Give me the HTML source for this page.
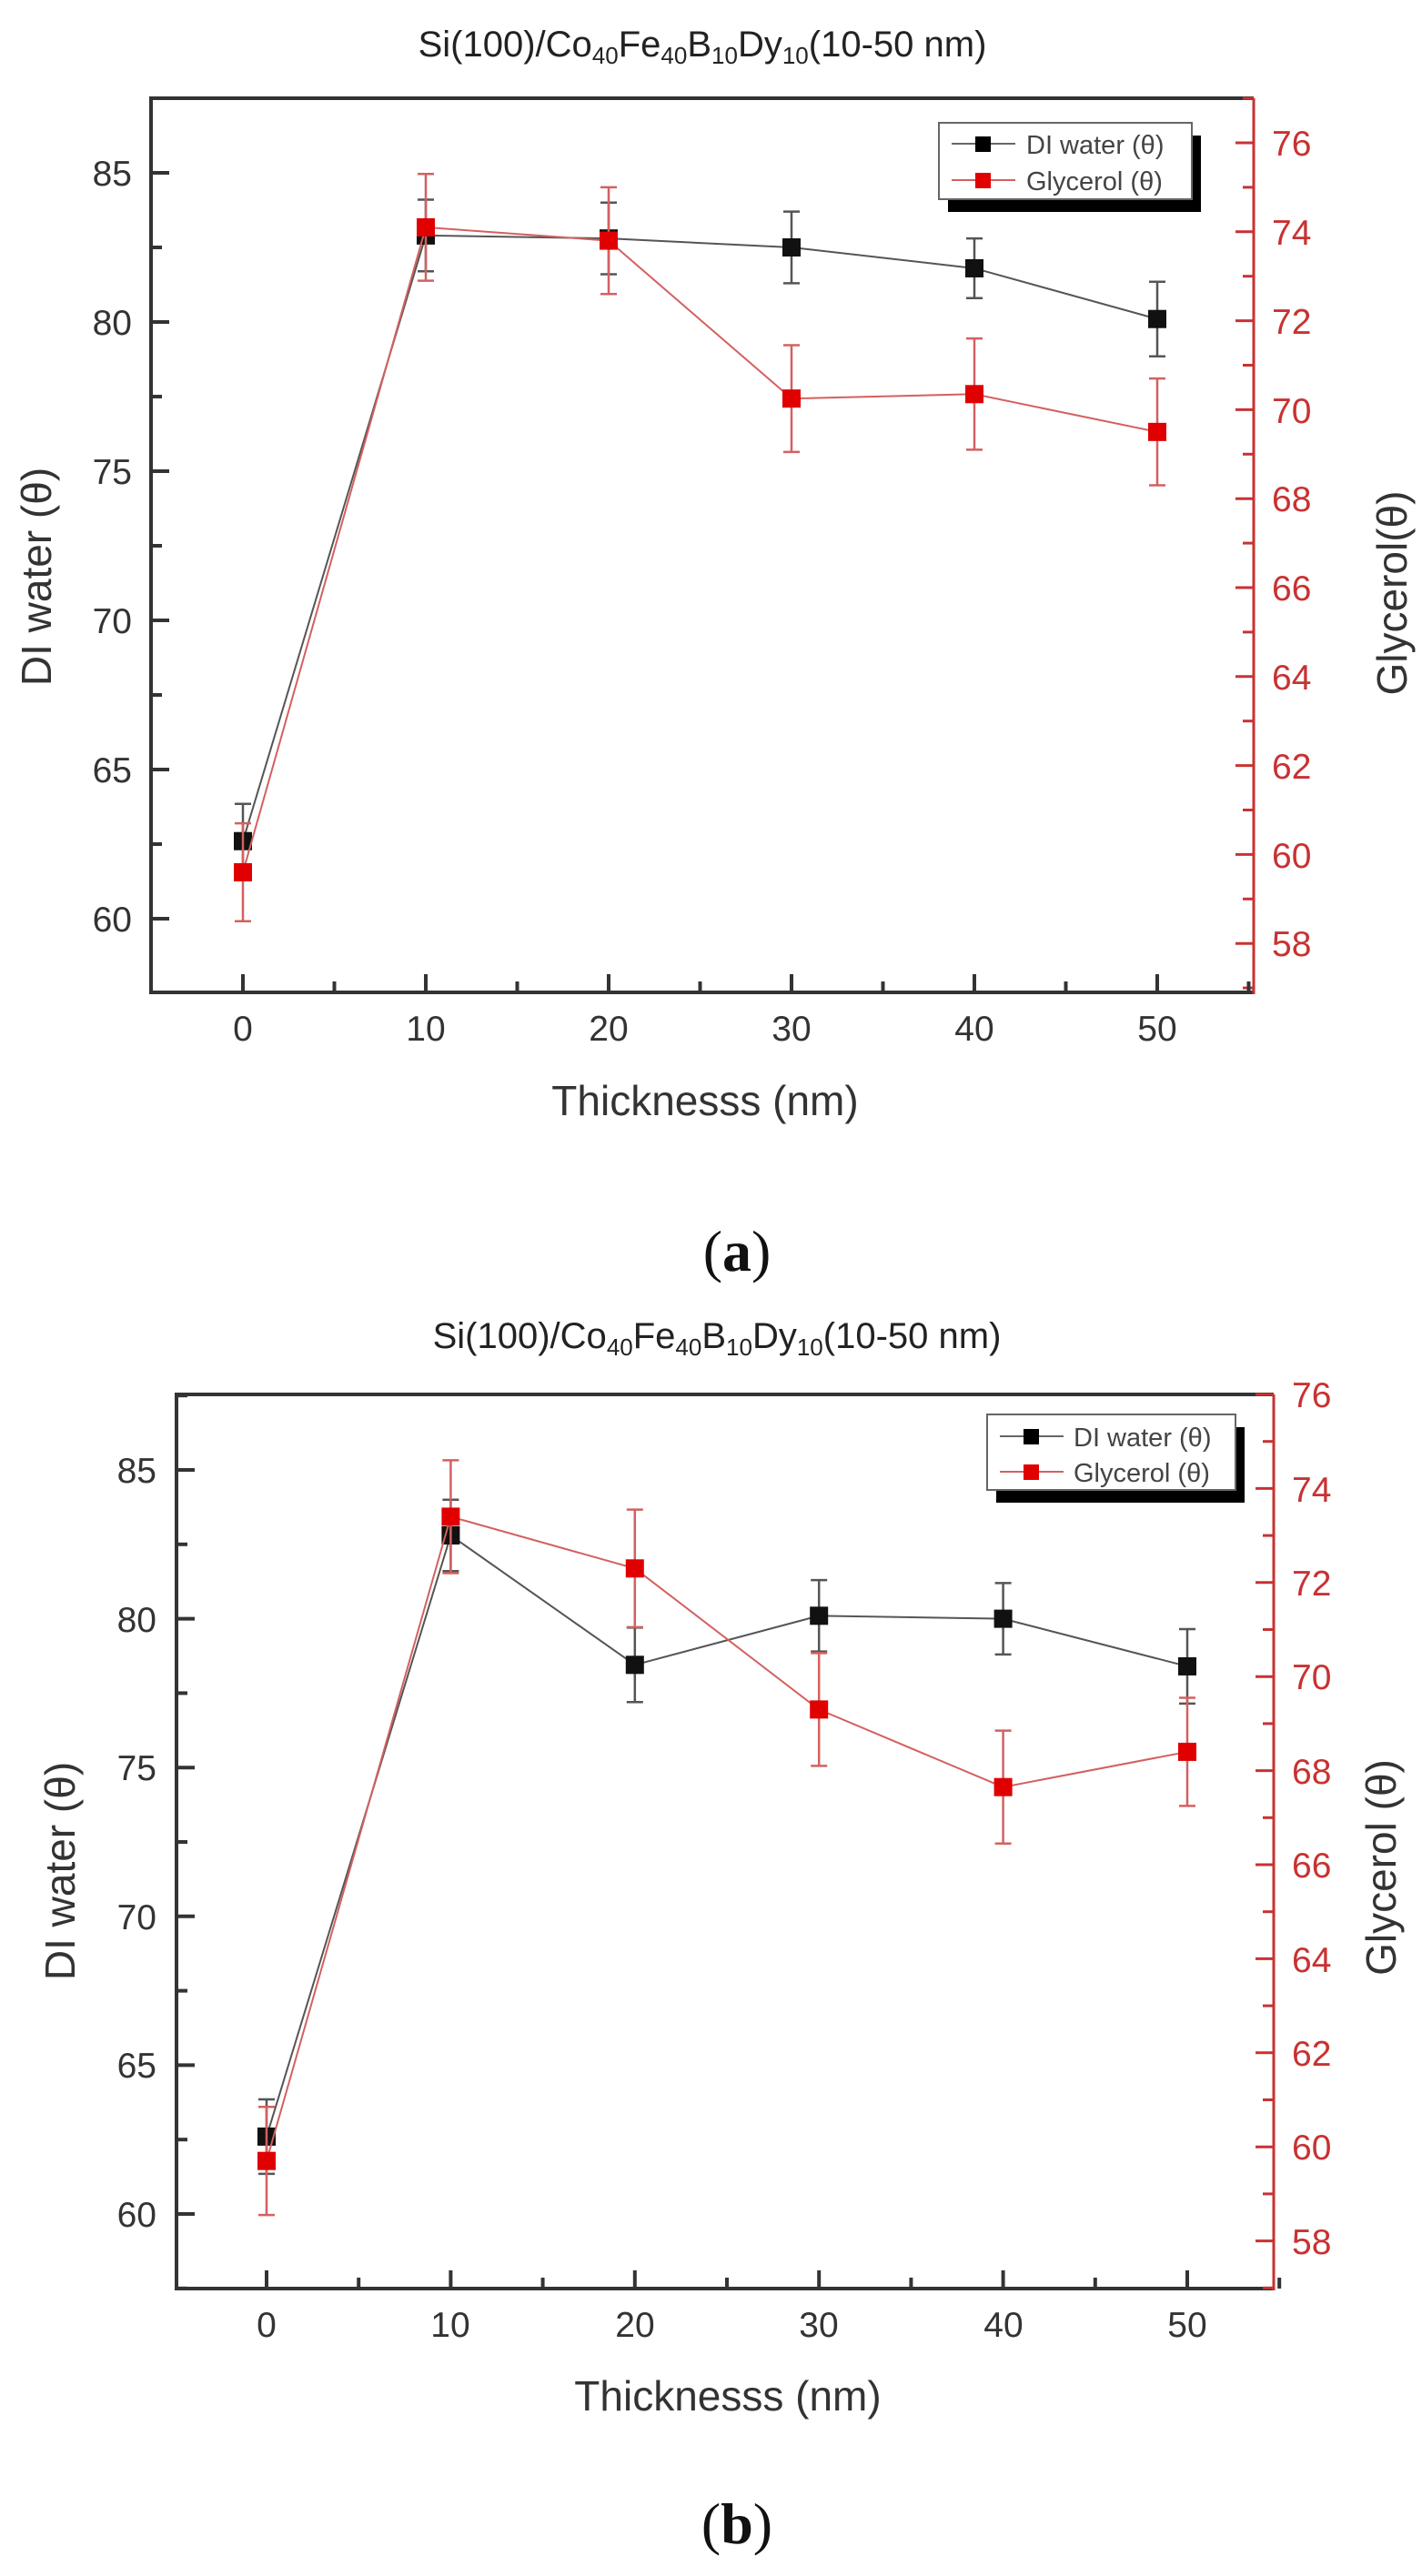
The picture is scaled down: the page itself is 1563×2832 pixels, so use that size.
<!DOCTYPE html>
<html><head><meta charset="utf-8"><style>
html,body{margin:0;padding:0;background:#fff}
svg{display:block}
text{font-family:"Liberation Sans",sans-serif}
</style></head><body>
<svg id="s" width="1563" height="2832" viewBox="0 0 1563 2832" xmlns="http://www.w3.org/2000/svg">
<g id="g"></g>
<!-- Plot A text -->
<text x="772" y="62" font-size="40" text-anchor="middle" fill="#222">Si(100)/Co<tspan font-size="26" dy="8">40</tspan><tspan dy="-8">Fe</tspan><tspan font-size="26" dy="8">40</tspan><tspan dy="-8">B</tspan><tspan font-size="26" dy="8">10</tspan><tspan dy="-8">Dy</tspan><tspan font-size="26" dy="8">10</tspan><tspan dy="-8">(10-50 nm)</tspan></text>
<g font-size="39" fill="#333" text-anchor="end">
<text x="145" y="204">85</text><text x="145" y="368">80</text><text x="145" y="532">75</text><text x="145" y="696">70</text><text x="145" y="860">65</text><text x="145" y="1024">60</text>
</g>
<g font-size="39" fill="#c83232">
<text x="1398" y="171">76</text><text x="1398" y="269">74</text><text x="1398" y="367">72</text><text x="1398" y="465">70</text><text x="1398" y="562">68</text><text x="1398" y="660">66</text><text x="1398" y="758">64</text><text x="1398" y="856">62</text><text x="1398" y="954">60</text><text x="1398" y="1051">58</text>
</g>
<g font-size="39" fill="#333" text-anchor="middle">
<text x="267" y="1144">0</text><text x="468" y="1144">10</text><text x="669" y="1144">20</text><text x="870" y="1144">30</text><text x="1071" y="1144">40</text><text x="1272" y="1144">50</text>
</g>
<text x="775" y="1226" font-size="46" fill="#333" text-anchor="middle">Thicknesss (nm)</text>
<text transform="translate(56,634) rotate(-90)" font-size="46" fill="#333" text-anchor="middle">DI water (θ)</text>
<text transform="translate(1546,652) rotate(-90)" font-size="46" fill="#333" text-anchor="middle">Glycerol(θ)</text>
<text x="810" y="1397" font-size="64" fill="#111" text-anchor="middle" style="font-family:'Liberation Serif',serif">(<tspan font-weight="bold">a</tspan>)</text>
<g font-size="29" fill="#444">
<text x="1128" y="169">DI water (θ)</text><text x="1128" y="209">Glycerol (θ)</text>
</g>
<!-- Plot B text -->
<text x="788" y="1482" font-size="40" text-anchor="middle" fill="#222">Si(100)/Co<tspan font-size="26" dy="8">40</tspan><tspan dy="-8">Fe</tspan><tspan font-size="26" dy="8">40</tspan><tspan dy="-8">B</tspan><tspan font-size="26" dy="8">10</tspan><tspan dy="-8">Dy</tspan><tspan font-size="26" dy="8">10</tspan><tspan dy="-8">(10-50 nm)</tspan></text>
<g font-size="39" fill="#333" text-anchor="end">
<text x="172" y="1630">85</text><text x="172" y="1794">80</text><text x="172" y="1957">75</text><text x="172" y="2121">70</text><text x="172" y="2284">65</text><text x="172" y="2448">60</text>
</g>
<g font-size="39" fill="#c83232">
<text x="1420" y="1547">76</text><text x="1420" y="1651">74</text><text x="1420" y="1754">72</text><text x="1420" y="1857">70</text><text x="1420" y="1961">68</text><text x="1420" y="2064">66</text><text x="1420" y="2168">64</text><text x="1420" y="2271">62</text><text x="1420" y="2374">60</text><text x="1420" y="2478">58</text>
</g>
<g font-size="39" fill="#333" text-anchor="middle">
<text x="293" y="2569">0</text><text x="495" y="2569">10</text><text x="698" y="2569">20</text><text x="900" y="2569">30</text><text x="1103" y="2569">40</text><text x="1305" y="2569">50</text>
</g>
<text x="800" y="2650" font-size="46" fill="#333" text-anchor="middle">Thicknesss (nm)</text>
<text transform="translate(82,2057) rotate(-90)" font-size="46" fill="#333" text-anchor="middle">DI water (θ)</text>
<text transform="translate(1534,2053) rotate(-90)" font-size="46" fill="#333" text-anchor="middle">Glycerol (θ)</text>
<text x="810" y="2796" font-size="64" fill="#111" text-anchor="middle" style="font-family:'Liberation Serif',serif">(<tspan font-weight="bold">b</tspan>)</text>
<g font-size="29" fill="#444">
<text x="1180" y="1590">DI water (θ)</text><text x="1180" y="1629">Glycerol (θ)</text>
</g>
</svg>
<script>
var g=document.getElementById('g'),NS='http://www.w3.org/2000/svg';
function el(t,a){var e=document.createElementNS(NS,t);for(var k in a)e.setAttribute(k,a[k]);g.appendChild(e);return e;}
function ln(x1,y1,x2,y2,c,w){el('line',{x1:x1,y1:y1,x2:x2,y2:y2,stroke:c,'stroke-width':w});}
function plot(P){
 var X=function(v){return P.x0+v*P.dx},YL=function(v){return P.yl0+(85-v)*P.kl},YR=function(v){return P.yr0+(76-v)*P.kr};
 ln(P.L,P.T,P.R,P.T,'#333',4);ln(P.L,P.B,P.R,P.B,'#333',4);ln(P.L,P.T-2,P.L,P.B+2,'#333',4);
 ln(P.R,P.T,P.R,P.B+2,'#c83232',3);
 for(var v=60;v<=85;v+=5)ln(P.L,YL(v),P.L+20,YL(v),'#333',4);
 for(var v=57.5;v<=87.5;v+=5){var y=YL(v);if(y>P.T&&y<P.B)ln(P.L,y,P.L+12,y,'#333',4);}
 for(var v=58;v<=76;v+=2)ln(P.R-20,YR(v),P.R,YR(v),'#c83232',3);
 for(var v=57;v<=77;v+=2){var y=YR(v);if(y>P.T&&y<P.B)ln(P.R-12,y,P.R,y,'#c83232',3);}
 for(var v=0;v<=50;v+=10)ln(X(v),P.B,X(v),P.B-20,'#333',4);
 for(var v=5;v<=55;v+=10)ln(X(v),P.B,X(v),P.B-12,'#333',4);
 function series(d,Y,c,lc){
  var pts=d.map(function(p,i){return X(i*10)+','+Y(p[0])}).join(' ');
  el('polyline',{points:pts,fill:'none',stroke:lc,'stroke-width':2});
  d.forEach(function(p,i){var x=X(i*10),a=Y(p[0]+p[1]),b=Y(p[0]-p[1]);
   ln(x,a,x,b,lc,2.5);ln(x-9,a,x+9,a,lc,2.5);ln(x-9,b,x+9,b,lc,2.5);});
  d.forEach(function(p,i){el('rect',{x:X(i*10)-10,y:Y(p[0])-10,width:20,height:20,fill:c});});
 }
 series(P.di,YL,'#111','#555');
 series(P.gl,YR,'#e00000','#d46060');
 var l=P.leg;
 el('rect',{x:l.x+10,y:l.y+14,width:l.w,height:l.h,fill:'#000'});
 el('rect',{x:l.x,y:l.y,width:l.w,height:l.h,fill:'#fff',stroke:'#666','stroke-width':2});
 ln(l.x+14,l.e1,l.x+84,l.e1,'#666',2);el('rect',{x:l.x+40,y:l.e1-8,width:17,height:17,fill:'#000'});
 ln(l.x+14,l.e2,l.x+84,l.e2,'#d46060',2);el('rect',{x:l.x+40,y:l.e2-8,width:17,height:17,fill:'#e00000'});
}
plot({L:166,R:1378,T:108,B:1091,x0:267,dx:20.1,yl0:190,kl:32.8,yr0:157,kr:48.9,
 di:[[62.6,1.25],[82.9,1.2],[82.8,1.2],[82.5,1.2],[81.8,1.0],[80.1,1.25]],
 gl:[[59.6,1.1],[74.1,1.2],[73.8,1.2],[70.25,1.2],[70.35,1.25],[69.5,1.2]],
 leg:{x:1032,y:135,w:278,h:84,e1:158,e2:198}});
plot({L:194,R:1400,T:1533,B:2516,x0:293,dx:20.24,yl0:1616,kl:32.72,yr0:1533,kr:51.7,
 di:[[62.6,1.25],[82.8,1.2],[78.45,1.25],[80.1,1.2],[80.0,1.2],[78.4,1.25]],
 gl:[[59.7,1.15],[73.4,1.2],[72.3,1.25],[69.3,1.2],[67.65,1.2],[68.4,1.15]],
 leg:{x:1085,y:1555,w:273,h:83,e1:1579,e2:1618}});
</script>
</body></html>
